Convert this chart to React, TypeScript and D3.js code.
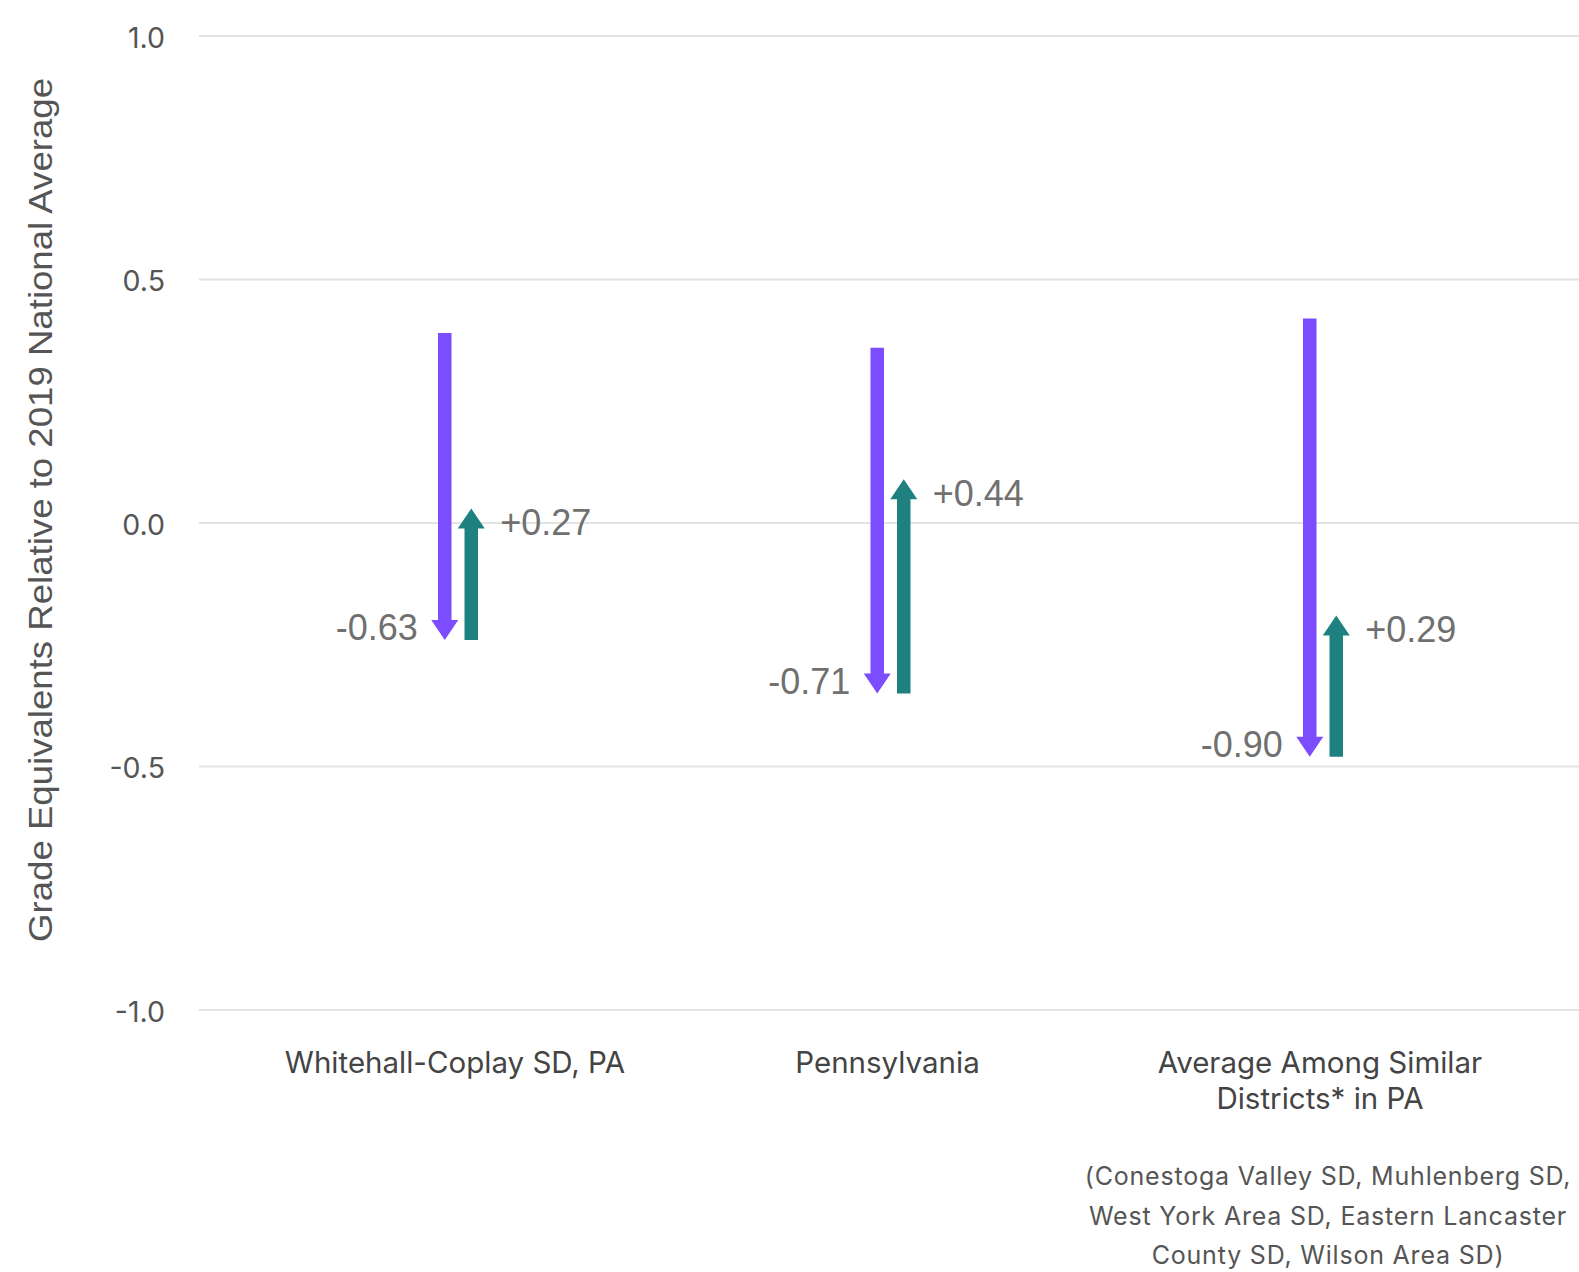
import React, { useEffect } from "react";
import * as d3 from "d3";

const categories = ["Whitehall-Coplay SD, PA", "Pennsylvania", "Average Among Similar Districts* in PA"];
const categoryLines = [["Whitehall-Coplay SD, PA"], ["Pennsylvania"], ["Average Among Similar", "Districts* in PA"]];
const startValues = [0.39, 0.36, 0.42];
const declineValues = [-0.63, -0.71, -0.9];
const recoveryValues = [0.27, 0.44, 0.29];
const yTicks = [1.0, 0.5, 0.0, -0.5, -1.0];
const footnoteLines = [
  "(Conestoga Valley SD, Muhlenberg SD,",
  "West York Area SD, Eastern Lancaster",
  "County SD, Wilson Area SD)",
];

const W = 1579;
const H = 1272;
const PURPLE = "#7c4dff";
const TEAL = "#1f8080";

export default function App() {
  useEffect(() => {
    document.body.style.margin = "0";
  }, []);

  const y = d3.scaleLinear().domain([-1, 1]).range([1010, 36]);
  const x = d3.scaleBand<string>().domain(categories).range([241.75, 1539.25]);
  const pairOffset = 13.25;
  const shaftW = 13.5;
  const headW = 27;
  const headH = 20;

  const fmt = (v: number) => (v > 0 ? "+" : "") + v.toFixed(2);

  const arrowDown = (cx: number, y0: number, y1: number) =>
    `M${cx - shaftW / 2},${y0} L${cx + shaftW / 2},${y0} L${cx + shaftW / 2},${y1 - headH} L${cx + headW / 2},${y1 - headH} L${cx},${y1} L${cx - headW / 2},${y1 - headH} L${cx - shaftW / 2},${y1 - headH} Z`;
  const arrowUp = (cx: number, y0: number, y1: number) =>
    `M${cx - shaftW / 2},${y0} L${cx + shaftW / 2},${y0} L${cx + shaftW / 2},${y1 + headH} L${cx + headW / 2},${y1 + headH} L${cx},${y1} L${cx - headW / 2},${y1 + headH} L${cx - shaftW / 2},${y1 + headH} Z`;

  return (
    <svg width={W} height={H} style={{ position: "absolute", left: 0, top: 0, background: "#fff" }}>
      {yTicks.map((t) => (
        <g key={t}>
          <line x1={199} x2={W} y1={y(t)} y2={y(t)} stroke="#e3e3e3" strokeWidth={2} />
          <text
            x={165}
            y={y(t) + 1}
            textAnchor="end"
            dominantBaseline="central"
            fontFamily="Inter"
            fontSize={28.5}
            fill="#555"
          >
            {t.toFixed(1)}
          </text>
        </g>
      ))}
      <text
        transform={`translate(40,510) rotate(-90)`}
        textAnchor="middle"
        dominantBaseline="central"
        fontFamily="Liberation Sans, Arial"
        fontSize={34}
        textLength={864}
        lengthAdjust="spacingAndGlyphs"
        fill="#555"
      >
        Grade Equivalents Relative to 2019 National Average
      </text>
      {categories.map((c, i) => {
        const cx = (x(c) as number) + x.bandwidth() / 2;
        const s = startValues[i];
        const e = s + declineValues[i];
        const r = e + recoveryValues[i];
        const px = cx - pairOffset;
        const gx = cx + pairOffset;
        return (
          <g key={c}>
            <path d={arrowDown(px, y(s), y(e))} fill={PURPLE} />
            <path d={arrowUp(gx, y(e), y(r))} fill={TEAL} />
            <text
              x={px - 27}
              y={y(e) - 12}
              textAnchor="end"
              dominantBaseline="central"
              fontFamily="Liberation Sans, Arial"
              fontSize={36}
              fill="#707070"
            >
              {fmt(declineValues[i])}
            </text>
            <text
              x={gx + 29}
              y={y(r) + 14}
              textAnchor="start"
              dominantBaseline="central"
              fontFamily="Liberation Sans, Arial"
              fontSize={36}
              fill="#707070"
            >
              {fmt(recoveryValues[i])}
            </text>
            {categoryLines[i].map((ln, j) => (
              <text
                key={j}
                x={cx - 3}
                y={1062 + j * 36}
                textAnchor="middle"
                dominantBaseline="central"
                fontFamily="Inter"
                fontSize={29.5}
                fill="#444"
              >
                {ln}
              </text>
            ))}
          </g>
        );
      })}
      {footnoteLines.map((ln, j) => (
        <text
          key={j}
          x={1328}
          y={1176 + j * 39.5}
          textAnchor="middle"
          dominantBaseline="central"
          fontFamily="Inter"
          fontSize={25}
          letterSpacing={0.8}
          fill="#555"
        >
          {ln}
        </text>
      ))}
    </svg>
  );
}
